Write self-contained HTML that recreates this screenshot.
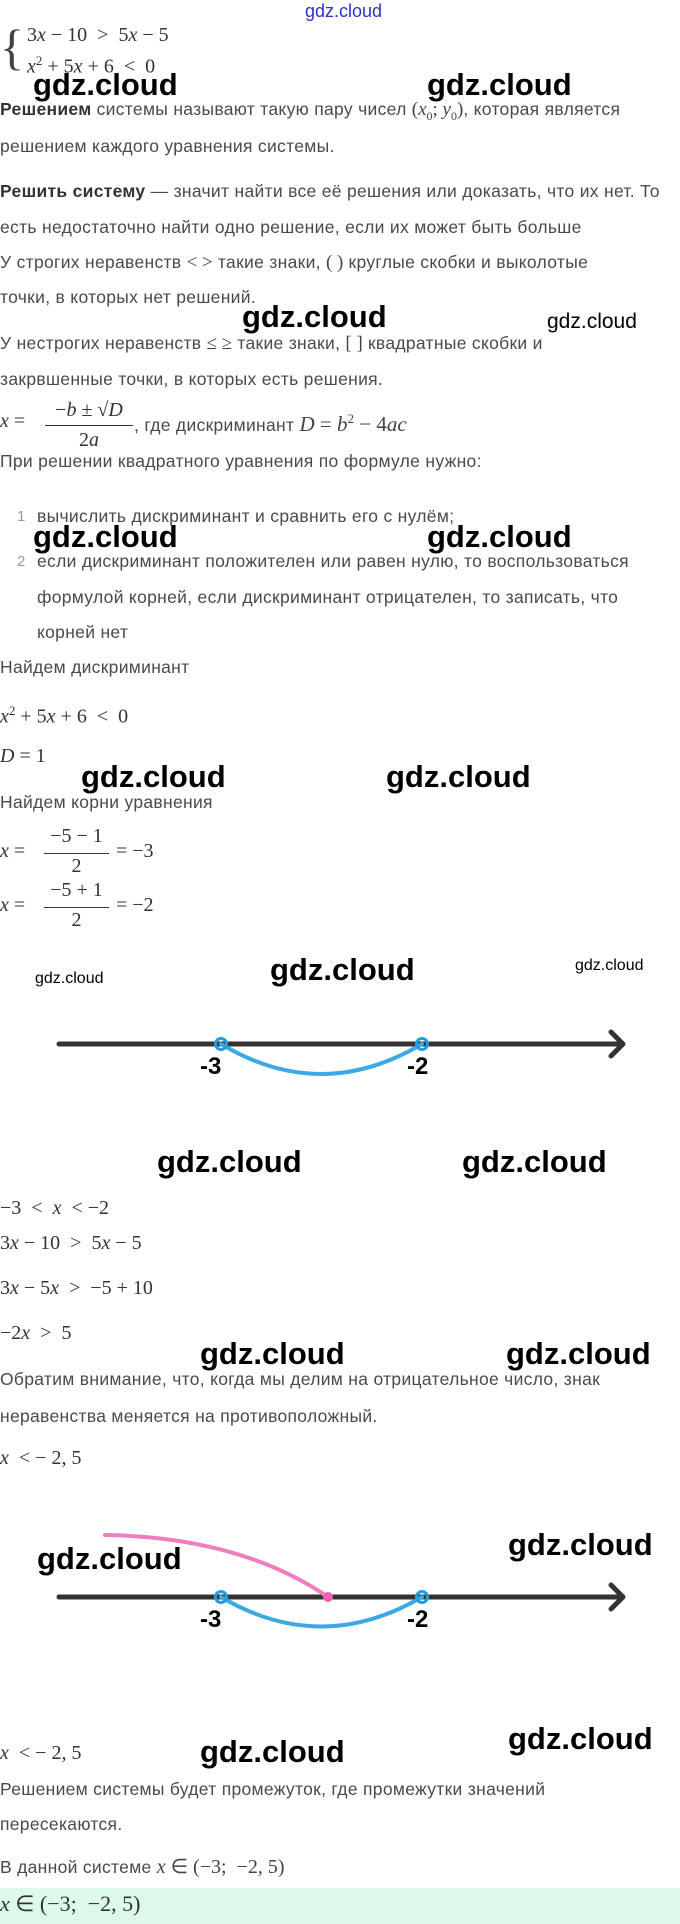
<!DOCTYPE html>
<html><head><meta charset="utf-8"><style>
*{margin:0;padding:0}
body{width:680px;height:1924px;position:relative;background:#fff;overflow:hidden;font-family:"Liberation Sans",sans-serif}
.t{position:absolute;left:0;font-size:17.5px;line-height:17px;letter-spacing:0.3px;color:#4a4a4a;white-space:nowrap}
.t b{color:#333}
.m{position:absolute;font-family:"Liberation Serif",serif;font-size:20px;line-height:20px;color:#333;white-space:nowrap}
.i{font-style:italic}
.im{font-family:"Liberation Serif",serif;font-size:19px;color:#444;letter-spacing:0}
.w{position:absolute;font-family:"Liberation Sans",sans-serif;font-weight:bold;font-size:31px;line-height:31px;color:#000;white-space:nowrap}
.ws{position:absolute;font-family:"Liberation Sans",sans-serif;font-size:16px;line-height:16px;color:#000;white-space:nowrap}
.bar{position:absolute;height:1px;background:#333}
.lb{position:absolute;font-weight:bold;font-size:24px;line-height:24px;color:#000}
.n{position:absolute;left:17px;font-size:15px;line-height:15px;color:#999}
</style></head><body>

<div class="ws" style="left:305px;top:2px;font-size:18px;line-height:18px;color:#3030c8;">gdz.cloud</div>

<div class="m" style="left:0;top:22px;font-size:50px;line-height:50px;color:#444;">{</div>
<div class="m" style="left:27px;top:25px;">3<span class="i">x</span> − 10 &nbsp;&gt;&nbsp; 5<span class="i">x</span> − 5</div>
<div class="m" style="left:27px;top:51px;"><span class="i">x</span><sup style="font-size:13px">2</sup> + 5<span class="i">x</span> + 6 &nbsp;&lt;&nbsp; 0</div>

<div class="w" style="left:33px;top:69px;">gdz.cloud</div>
<div class="w" style="left:427px;top:69px;">gdz.cloud</div>

<div class="t" style="top:101px;"><b>Решением</b> системы называют такую пару чисел <span class="im">(<i>x</i><sub style="font-size:12px">0</sub>; <i>y</i><sub style="font-size:12px">0</sub>)</span>, которая является</div>
<div class="t" style="top:138px;">решением каждого уравнения системы.</div>
<div class="t" style="top:183px;"><b>Решить систему</b> — значит найти все её решения или доказать, что их нет. То</div>
<div class="t" style="top:219px;">есть недостаточно найти одно решение, если их может быть больше</div>
<div class="t" style="top:254px;">У строгих неравенств <span class="im">&lt; &gt;</span> такие знаки, <span class="im">( )</span> круглые скобки и выколотые</div>
<div class="t" style="top:289px;">точки, в которых нет решений.</div>
<div class="w" style="left:242px;top:301px;">gdz.cloud</div>
<div class="ws" style="left:547px;top:311px;font-size:21px;line-height:21px;">gdz.cloud</div>
<div class="t" style="top:335px;">У нестрогих неравенств <span class="im">≤ ≥</span> такие знаки, <span class="im">[ ]</span> квадратные скобки и</div>
<div class="t" style="top:371px;">закрвшенные точки, в которых есть решения.</div>

<div class="m" style="left:0;top:411px;"><span class="i">x</span> =</div>
<div class="m" style="left:45px;top:400px;width:88px;text-align:center;">−<span class="i">b</span> ± √<span class="i">D</span></div>
<div class="bar" style="left:45px;top:425px;width:88px;"></div>
<div class="m" style="left:45px;top:430px;width:88px;text-align:center;">2<span class="i">a</span></div>
<div class="t" style="left:134px;top:410px;">, где дискриминант <span class="im" style="font-size:21px"><i>D</i> = <i>b</i><sup style="font-size:13px">2</sup> − 4<i>ac</i></span></div>

<div class="t" style="top:453px;">При решении квадратного уравнения по формуле нужно:</div>
<div class="n" style="top:509px;">1</div>
<div class="t" style="left:37px;top:508px;">вычислить дискриминант и сравнить его с нулём;</div>
<div class="w" style="left:33px;top:521px;">gdz.cloud</div>
<div class="w" style="left:427px;top:521px;">gdz.cloud</div>
<div class="n" style="top:554px;">2</div>
<div class="t" style="left:37px;top:553px;">если дискриминант положителен или равен нулю, то воспользоваться</div>
<div class="t" style="left:37px;top:589px;">формулой корней, если дискриминант отрицателен, то записать, что</div>
<div class="t" style="left:37px;top:624px;">корней нет</div>
<div class="t" style="top:659px;">Найдем дискриминант</div>
<div class="m" style="left:0;top:701px;"><span class="i">x</span><sup style="font-size:13px">2</sup> + 5<span class="i">x</span> + 6 &nbsp;&lt;&nbsp; 0</div>
<div class="m" style="left:0;top:746px;"><span class="i">D</span> = 1</div>
<div class="w" style="left:81px;top:761px;">gdz.cloud</div>
<div class="w" style="left:386px;top:761px;">gdz.cloud</div>
<div class="t" style="top:794px;">Найдем корни уравнения</div>

<div class="m" style="left:0;top:841px;"><span class="i">x</span> =</div>
<div class="m" style="left:44px;top:826px;width:65px;text-align:center;">−5 − 1</div>
<div class="bar" style="left:44px;top:853px;width:65px;"></div>
<div class="m" style="left:44px;top:856px;width:65px;text-align:center;">2</div>
<div class="m" style="left:116px;top:841px;">= −3</div>
<div class="m" style="left:0;top:895px;"><span class="i">x</span> =</div>
<div class="m" style="left:44px;top:880px;width:65px;text-align:center;">−5 + 1</div>
<div class="bar" style="left:44px;top:907px;width:65px;"></div>
<div class="m" style="left:44px;top:910px;width:65px;text-align:center;">2</div>
<div class="m" style="left:116px;top:895px;">= −2</div>

<div class="ws" style="left:35px;top:971px;">gdz.cloud</div>
<div class="w" style="left:270px;top:954px;">gdz.cloud</div>
<div class="ws" style="left:575px;top:958px;">gdz.cloud</div>

<svg style="position:absolute;left:0;top:0" width="680" height="1924">
 <g stroke-linecap="round" fill="none">
  <line x1="59" y1="1044" x2="622" y2="1044" stroke="#333" stroke-width="5"/>
  <polyline points="611,1032 623,1044 611,1056" stroke="#333" stroke-width="5" stroke-linejoin="round"/>
  <path d="M221,1044 Q321,1104 422,1044" stroke="#3aa9e4" stroke-width="4"/>
  <circle cx="221" cy="1044" r="5.5" stroke="#1f9fe0" stroke-width="3" fill="none"/>
  <circle cx="422" cy="1044" r="5.5" stroke="#1f9fe0" stroke-width="3" fill="none"/>

  <line x1="59" y1="1597" x2="622" y2="1597" stroke="#333" stroke-width="5"/>
  <polyline points="611,1585 623,1597 611,1609" stroke="#333" stroke-width="5" stroke-linejoin="round"/>
  <path d="M105,1535 Q240,1537 328,1597" stroke="#f07dc0" stroke-width="4"/>
  <circle cx="328" cy="1597" r="5" fill="#f060b0" stroke="none"/>
  <path d="M221,1597 Q321,1656 422,1597" stroke="#3aa9e4" stroke-width="4"/>
  <circle cx="221" cy="1597" r="5.5" stroke="#1f9fe0" stroke-width="3" fill="none"/>
  <circle cx="422" cy="1597" r="5.5" stroke="#1f9fe0" stroke-width="3" fill="none"/>
 </g>
</svg>
<div class="lb" style="left:200px;top:1055px;">-3</div>
<div class="lb" style="left:407px;top:1055px;">-2</div>

<div class="w" style="left:157px;top:1146px;">gdz.cloud</div>
<div class="w" style="left:462px;top:1146px;">gdz.cloud</div>
<div class="m" style="left:0;top:1198px;">−3 &nbsp;&lt;&nbsp; <span class="i">x</span> &nbsp;&lt; −2</div>
<div class="m" style="left:0;top:1233px;">3<span class="i">x</span> − 10 &nbsp;&gt;&nbsp; 5<span class="i">x</span> − 5</div>
<div class="m" style="left:0;top:1278px;">3<span class="i">x</span> − 5<span class="i">x</span> &nbsp;&gt;&nbsp; −5 + 10</div>
<div class="m" style="left:0;top:1323px;">−2<span class="i">x</span> &nbsp;&gt;&nbsp; 5</div>
<div class="w" style="left:200px;top:1338px;">gdz.cloud</div>
<div class="w" style="left:506px;top:1338px;">gdz.cloud</div>
<div class="t" style="top:1371px;">Обратим внимание, что, когда мы делим на отрицательное число, знак</div>
<div class="t" style="top:1408px;">неравенства меняется на противоположный.</div>
<div class="m" style="left:0;top:1448px;"><span class="i">x</span> &nbsp;&lt; − 2, 5</div>

<div class="w" style="left:37px;top:1543px;">gdz.cloud</div>
<div class="w" style="left:508px;top:1529px;">gdz.cloud</div>
<div class="lb" style="left:200px;top:1608px;">-3</div>
<div class="lb" style="left:407px;top:1608px;">-2</div>

<div class="w" style="left:200px;top:1736px;">gdz.cloud</div>
<div class="w" style="left:508px;top:1723px;">gdz.cloud</div>
<div class="m" style="left:0;top:1743px;"><span class="i">x</span> &nbsp;&lt; − 2, 5</div>
<div class="t" style="top:1781px;">Решением системы будет промежуток, где промежутки значений</div>
<div class="t" style="top:1816px;">пересекаются.</div>
<div class="t" style="top:1859px;">В данной системе <span class="im" style="font-size:20px"><i>x</i> ∈ (−3; &nbsp;−2, 5)</span></div>
<div style="position:absolute;left:0;top:1888px;width:680px;height:36px;background:#ddf9ec;"></div>
<div class="m" style="left:0;top:1893px;font-size:22px;line-height:22px;"><span class="i">x</span> ∈ (−3; &nbsp;−2, 5)</div>
</body></html>
